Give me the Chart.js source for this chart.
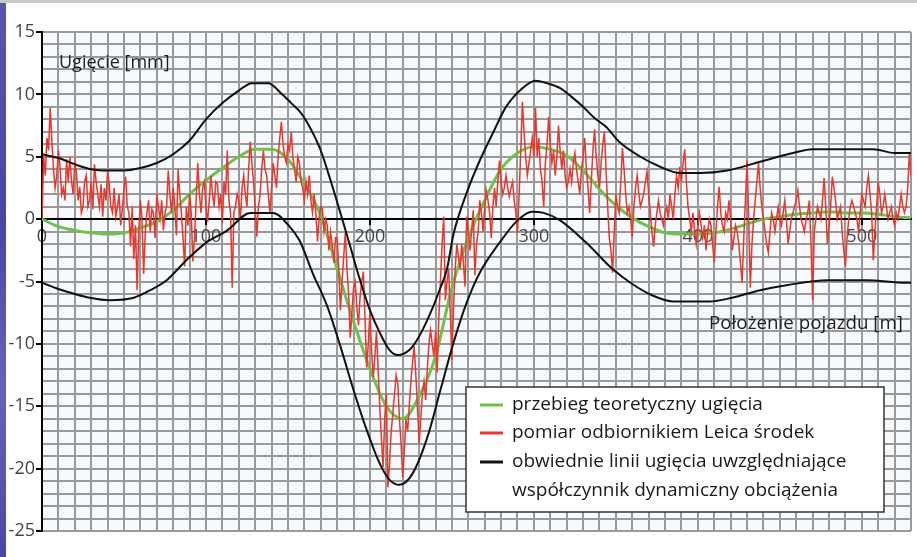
<!DOCTYPE html>
<html>
<head>
<meta charset="utf-8">
<script src="https://cdn.jsdelivr.net/npm/chart.js@4.4.1/dist/chart.umd.min.js"></script>
<style>
  html, body { margin: 0; padding: 0; background: #fff; }
  #wrap { position: relative; width: 917px; height: 557px; overflow: hidden; }
  #strip { position: absolute; left: 0; top: 0; width: 6px; height: 557px;
           background: linear-gradient(180deg, #5b55a8, #4a46a0 40%, #6a62b4 70%, #4b47a0); }
  #topbar { position: absolute; left: 0; top: 0; width: 917px; height: 3px; background: #c9c9c9; }
  canvas { position: absolute; left: 0; top: 0; }
</style>
</head>
<body>
<div id="wrap">
  <div id="strip"></div>
  <div id="topbar"></div>
  <canvas id="chart" width="917" height="557"></canvas>
</div>
<script>
// osie
const yTitle = 'Ugięcie [mm]';
const xTitle = 'Położenie pojazdu [m]';
const yMin = -25, yMax = 15;
const xMin = 0, xMax = 530;

// przebieg teoretyczny (co 10 m)
const greenX = [0,10,20,30,40,50,60,70,80,90,100,110,120,130,140,150,160,170,180,190,200,210,220,230,240,250,260,270,280,290,300,310,320,330,340,350,360,370,380,390,400,410,420,430,440,450,460,470,480,490,500,510,520,530];
const greenY = [0,-0.6,-0.9,-1.1,-1.2,-1.1,-0.7,-0.2,0.7,2.0,3.1,4.1,5.0,5.6,5.6,4.8,2.8,0.3,-4.0,-8.2,-12.0,-15.0,-16.0,-14.2,-11.0,-5.5,-1.5,1.5,4.0,5.3,5.8,5.6,5.1,3.9,2.4,1.1,0.1,-0.6,-1.1,-1.2,-1.2,-1.1,-0.8,-0.4,0.0,0.2,0.4,0.5,0.6,0.5,0.5,0.4,0.2,0.1];

// pomiar Leica, co 1 m od 0 do 530
const redY = [
  0,5.0,3.5,6.5,5.5,8.9,6.3,4.0,2.5,3.5,5.5,4.2,2.0,2.5,1.5,4.8,3.0,5.0,3.0,2.0,
  4.5,3.8,1.5,2.6,0.5,1.0,3.0,3.5,1.0,1.5,3.0,0.8,4.4,3.0,2.0,1.0,2.8,0.2,2.5,1.5,
  3.8,2.8,1.0,0.5,2.5,0.2,1.0,2.0,-0.5,0.8,2.5,3.4,1.0,0.5,-2.2,1.0,-3.2,-0.5,-5.7,-1.0,
  1.5,0.0,-4.4,-1.0,0.5,1.5,-1.0,0.8,0.5,-1.5,2.0,1.0,0.0,1.5,-0.9,0.5,1.0,3.9,2.0,0.5,
  2.5,1.0,-1.3,4.0,2.0,0.5,-1.5,-3.8,1.0,-0.5,2.0,0.5,-3.4,-1.5,1.5,4.5,2.0,0.5,2.5,3.0,
  1.0,-0.2,1.5,3.5,2.0,1.0,3.0,2.8,1.0,2.0,-0.3,3.0,2.0,5.5,1.5,0.5,-5.5,0.5,1.0,2.0,
  1.5,0.0,2.5,3.5,2.0,1.0,4.0,6.2,4.5,3.0,1.0,-1.4,1.0,2.0,4.0,5.5,4.0,3.5,2.0,0.5,
  2.5,4.5,3.5,2.5,5.0,6.5,7.8,6.0,5.0,4.5,6.0,5.5,7.0,5.0,4.0,3.0,5.0,4.5,3.0,2.5,
  1.5,3.0,2.0,3.5,1.5,0.5,2.0,0.5,-1.8,0.0,1.0,0.8,-1.0,0.0,-0.5,-2.5,-1.0,-2.0,-3.5,-1.5,
  -1.5,-4.0,-7.3,-5.0,-3.0,-1.1,-4.0,-6.0,-9.5,-7.5,-5.5,-5.0,-7.0,-8.5,-6.2,-5.0,-4.2,-8.0,-11.9,-10.0,
  -7.5,-10.5,-12.7,-11.0,-9.0,-12.0,-15.0,-17.5,-19.9,-16.0,-14.0,-21.5,-19.5,-17.0,-15.5,-14.0,-12.5,-13.2,-16.0,-18.0,
  -20.7,-18.5,-16.0,-17.0,-15.0,-13.0,-11.5,-10.2,-12.5,-15.0,-18.0,-16.0,-14.0,-13.0,-14.5,-12.0,-10.0,-8.9,-10.0,-11.0,
  -9.0,-12.3,-8.0,-5.0,-2.0,0.2,-6.5,-5.0,-4.0,-7.5,-11.3,-7.0,-4.0,-2.0,-3.0,-4.0,-2.0,-3.5,-5.4,0.2,
  -1.0,-2.5,-1.0,0.7,-4.5,-2.0,-1.0,1.5,0.5,-1.0,1.0,2.3,1.5,0.5,-1.5,1.0,2.5,1.0,3.0,4.7,
  3.0,2.0,2.5,3.5,2.5,1.8,2.5,3.0,1.5,0.5,-1.1,2.0,5.5,9.4,7.0,5.0,3.5,4.5,5.5,6.5,
  5.0,8.9,5.0,6.5,4.0,3.0,1.0,4.5,6.0,8.2,6.0,4.5,5.5,3.5,5.0,7.5,5.5,4.0,5.5,3.5,
  2.5,3.0,4.0,3.0,4.5,5.3,4.0,3.0,2.0,4.0,5.0,6.5,4.0,2.5,0.5,3.0,5.5,7.2,5.0,3.5,
  2.5,4.5,6.0,7.0,4.0,1.0,-1.5,-2.5,-4.3,-1.0,2.0,1.0,0.5,3.0,5.7,4.0,2.0,0.5,1.0,0.0,
  -1.4,1.0,2.5,3.5,2.0,1.0,1.5,2.0,3.0,3.8,2.0,0.5,-1.0,-2.2,-0.5,0.5,1.5,0.5,0.0,-0.5,
  0.5,1.0,0.0,2.0,1.0,0.0,2.0,3.5,2.5,4.2,3.0,4.5,5.6,3.0,1.0,0.0,-1.0,0.5,-1.0,-2.0,
  -0.5,0.5,-0.5,-1.5,-0.5,-2.5,-1.0,0.0,-0.5,-2.0,-3.5,-1.0,1.0,2.6,0.5,-0.5,-1.0,0.5,0.0,1.5,
  0.0,-2.5,-1.5,-0.5,-1.0,-2.0,-3.5,-5.1,-1.5,1.5,4.7,0.0,-5.5,-2.0,0.0,1.5,3.0,4.5,2.5,1.0,
  0.0,-1.0,-2.0,-2.7,-1.0,0.5,0.0,-1.0,0.0,1.0,0.0,-0.5,0.5,1.5,0.0,-2.0,-1.0,0.0,0.5,1.0,
  1.5,2.3,1.0,0.0,-0.5,-1.0,0.0,0.5,1.5,-2.0,-6.5,-1.0,0.0,1.0,0.5,0.0,1.5,3.3,1.0,-2.0,
  -0.5,1.0,3.4,2.5,1.5,0.0,0.5,1.0,-1.0,-2.5,-3.8,-1.5,0.0,1.0,1.5,1.0,0.5,0.0,-1.0,0.5,
  2.0,1.5,1.0,2.5,3.5,2.0,0.5,-3.3,-1.0,1.0,3.0,2.0,0.5,1.0,2.0,1.0,0.0,0.5,1.0,0.0,
  -0.5,0.5,0.0,1.0,2.0,1.0,0.5,1.0,2.5,5.3,3.5
];

// obwiednie
const upperX = [0,10,20,30,40,50,60,70,80,90,100,110,120,128,138,145,152,158,164,170,176,182,188,194,200,206,212,217,224,230,237,243,247,251,259,267,275,283,293,301,308,316,323,330,337,344,352,365,377,389,401,418,438,458,470,507,520,530];
const upperY = [5.2,4.9,4.4,4.0,3.9,3.9,4.1,4.5,5.2,6.3,8.0,9.3,10.3,10.9,10.9,10.2,9.3,8.5,7.2,5.5,3.1,0.5,-2.2,-4.9,-7.3,-9.1,-10.5,-10.9,-10.5,-9.4,-7.5,-5.5,-4.0,-1.2,2.1,4.7,6.9,9.0,10.5,11.1,10.9,10.5,9.8,9.0,8.1,7.4,6.2,5.0,4.2,3.7,3.7,3.9,4.6,5.3,5.6,5.6,5.3,5.3];
const lowerX = [0,10,20,29,41,56,66,76,88,100,113,127,141,151,157,165,174,182,190,198,206,212,218,226,235,243,251,259,267,279,290,299,306,316,332,348,360,372,385,407,421,438,454,479,503,527,530];
const lowerY = [-5.1,-5.6,-6.0,-6.3,-6.5,-6.3,-5.7,-4.9,-3.3,-1.9,-0.9,0.5,0.5,-0.6,-1.7,-4.3,-7.0,-10.2,-13.7,-16.9,-19.6,-20.9,-21.3,-20.4,-17.5,-13.7,-9.9,-6.7,-4.3,-1.9,-0.1,0.6,0.5,-0.1,-1.9,-4.0,-5.2,-6.1,-6.6,-6.6,-6.3,-5.7,-5.3,-4.9,-4.9,-5.1,-5.1];

const seriesLabels = [
    'przebieg teoretyczny ugięcia',
    'pomiar odbiornikiem Leica środek',
    'obwiednie linii ugięcia uwzględniające\nwspółczynnik dynamiczny obciążenia'
];

const pts = (xs, ys) => xs.map((x, i) => ({ x: x, y: ys[i] }));
const redPts = redY.map((y, i) => ({ x: i, y: y }));

const FONT = '"Open Sans", "DejaVu Sans", sans-serif';

// tło, opisy osi i legenda
const overlay = {
    id: 'overlay',
    beforeDraw(chart) {
        const a = chart.chartArea;
        const ctx = chart.ctx;
        ctx.save();
        ctx.fillStyle = '#f7fafd';
        ctx.fillRect(a.left, a.top, a.right - a.left, a.bottom - a.top);
        ctx.restore();
    },
    afterDraw(chart) {
        const ctx = chart.ctx;
        ctx.save();
        ctx.fillStyle = '#1e1e1e';
        ctx.font = '18px ' + FONT;
        ctx.textBaseline = 'alphabetic';
        ctx.textAlign = 'left';
        ctx.fillText(yTitle, 59, 68);
        ctx.font = '18.8px ' + FONT;
        ctx.textAlign = 'right';
        ctx.fillText(xTitle, 903, 329);

        // legenda
        const bx = 466, by = 387, bw = 418, bh = 125;
        ctx.fillStyle = '#ffffff';
        ctx.fillRect(bx, by, bw, bh);
        ctx.strokeStyle = '#333';
        ctx.lineWidth = 1.5;
        ctx.strokeRect(bx, by, bw, bh);

        const rows = [405, 433, 462];
        const sets = chart.data.datasets.slice(0, 3);
        ctx.textAlign = 'left';
        ctx.textBaseline = 'middle';
        ctx.font = '19px ' + FONT;
        sets.forEach((ds, i) => {
            ctx.strokeStyle = ds.borderColor;
            ctx.lineWidth = 3;
            ctx.beginPath();
            ctx.moveTo(480, rows[i]);
            ctx.lineTo(503, rows[i]);
            ctx.stroke();
            ctx.fillStyle = '#1a1a1a';
            ds.label.split('\n').forEach((line, j) => {
                ctx.fillText(line, 512, rows[i] + j * 29);
            });
        });
        ctx.restore();
    }
};

const ctx = document.getElementById('chart').getContext('2d');
const chart = new Chart(ctx, {
    type: 'line',
    data: {
        datasets: [
            {
                label: seriesLabels[0],
                data: pts(greenX, greenY),
                borderColor: '#6cc24a',
                borderWidth: 3,
                pointRadius: 0,
                tension: 0.35,
                cubicInterpolationMode: 'monotone',
                order: 3
            },
            {
                label: seriesLabels[1],
                data: redPts,
                borderColor: '#e8372c',
                borderWidth: 1.5,
                pointRadius: 0,
                tension: 0,
                order: 2
            },
            {
                label: seriesLabels[2],
                data: pts(upperX, upperY),
                borderColor: '#111111',
                borderWidth: 2,
                pointRadius: 0,
                tension: 0.3,
                cubicInterpolationMode: 'monotone',
                order: 1
            },
            {
                label: 'lower',
                data: pts(lowerX, lowerY),
                borderColor: '#111111',
                borderWidth: 2,
                pointRadius: 0,
                tension: 0.3,
                cubicInterpolationMode: 'monotone',
                order: 1
            }
        ]
    },
    options: {
        responsive: false,
        animation: false,
        devicePixelRatio: 1,
        layout: { padding: { left: 0, right: 6, top: 32, bottom: 26 } },
        plugins: {
            legend: { display: false },
            tooltip: { enabled: false }
        },
        scales: {
            x: {
                type: 'linear',
                min: xMin,
                max: xMax,
                position: { y: 0 },
                border: { display: true, color: '#000', width: 2 },
                grid: {
                    color: '#9a9a9a',
                    lineWidth: 2,
                    tickLength: 5,
                    tickColor: (c) => (c.tick && c.tick.value % 100 === 0 ? '#000' : 'rgba(0,0,0,0)')
                },
                ticks: {
                    stepSize: 10,
                    autoSkip: false,
                    maxRotation: 0,
                    padding: 2,
                    color: '#444',
                    font: { size: 18, family: FONT },
                    callback: (v) => (v % 100 === 0 ? String(v) : '')
                }
            },
            y: {
                min: yMin,
                max: yMax,
                border: { display: true, color: '#000', width: 2 },
                afterFit: (scale) => { scale.width = 42; },
                grid: {
                    color: '#9a9a9a',
                    lineWidth: 2,
                    tickLength: 6,
                    tickColor: (c) => (c.tick && c.tick.value % 5 === 0 ? '#000' : 'rgba(0,0,0,0)')
                },
                ticks: {
                    stepSize: 1,
                    autoSkip: false,
                    padding: 1,
                    color: '#444',
                    font: { size: 18, family: FONT },
                    callback: (v) => (v % 5 === 0 ? String(v) : '')
                }
            }
        }
    },
    plugins: [overlay]
});
</script>
</body>
</html>
